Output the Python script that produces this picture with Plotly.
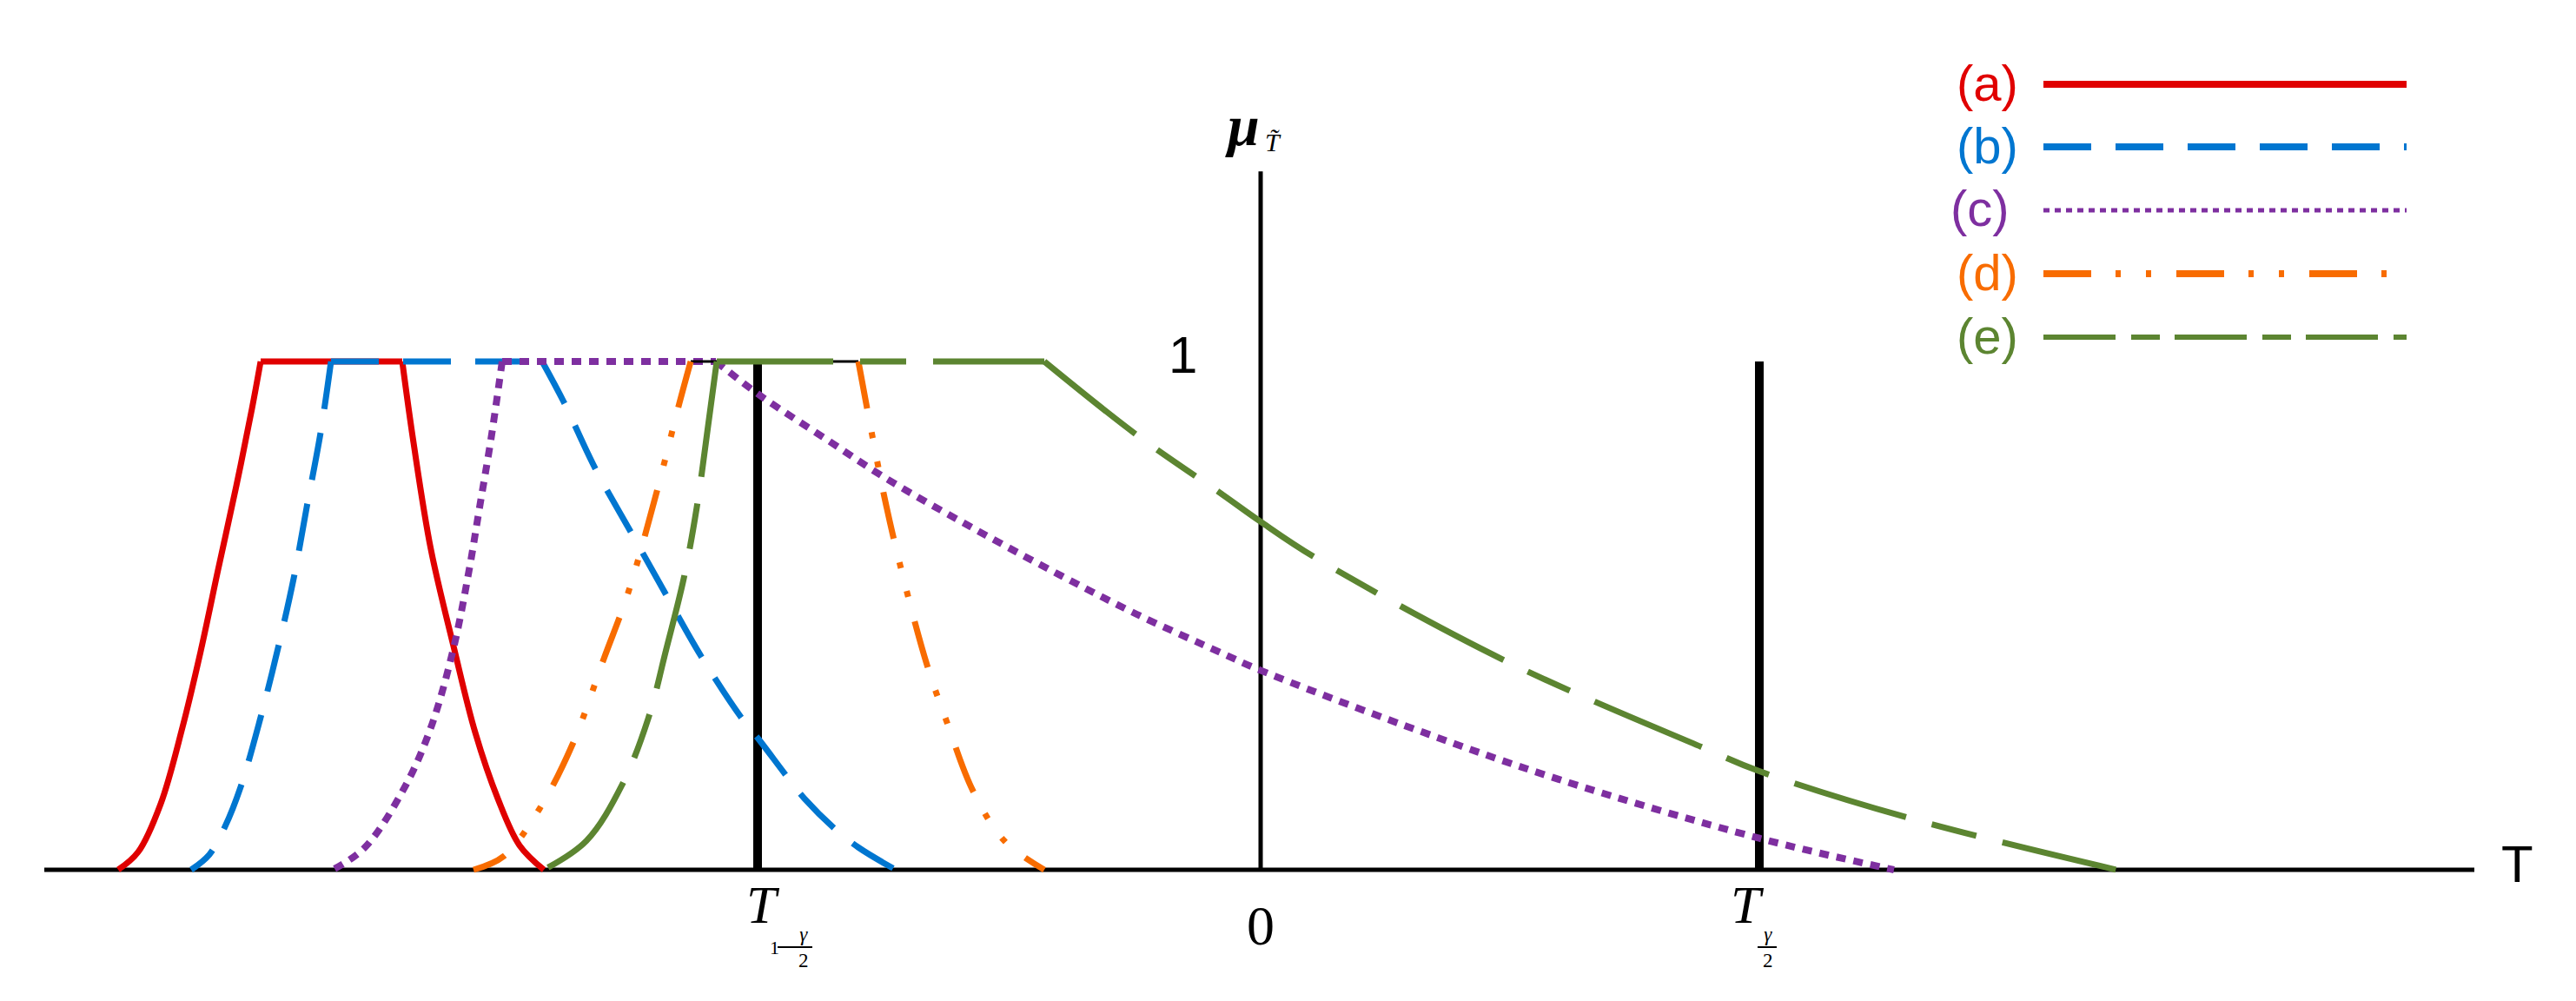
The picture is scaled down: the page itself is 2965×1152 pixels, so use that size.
import plotly.graph_objects as go

W, H = 2965, 1152

# Membership curves (T in arbitrary units, 0 on the mu axis).
# Every curve is split into rise (listed top -> base), flat top, and fall (top -> base),
# which is also how the dash patterns restart in the original.
a_rise_t = [-11.51, -11.61, -11.79, -12.00, -12.20, -12.41, -12.66, -12.92, -13.15]
a_rise_mu = [1, 0.907, 0.755, 0.59, 0.43, 0.28, 0.13, 0.035, 0]
a_fall_t = [-9.88, -9.75, -9.55, -9.29, -9.04, -8.78, -8.53, -8.25]
a_fall_mu = [1, 0.84, 0.63, 0.44, 0.27, 0.14, 0.048, 0]

b_rise_t = [-10.70, -10.82, -10.98, -11.13, -11.31, -11.51, -11.74, -11.92, -12.10, -12.31]
b_rise_mu = [1, 0.86, 0.713, 0.573, 0.436, 0.30, 0.163, 0.085, 0.03, 0]
b_fall_t = [-8.27, -8.02, -7.66, -7.25, -6.84, -6.44, -5.98, -5.76, -5.45, -5.25, -4.89, -4.63, -4.20]
b_fall_mu = [1, 0.92, 0.79, 0.665, 0.54, 0.42, 0.30, 0.253, 0.183, 0.14, 0.079, 0.044, 0]

c_rise_t = [-8.73, -8.86, -8.99, -9.11, -9.29, -9.55, -9.85, -10.31, -10.68]
c_rise_mu = [1, 0.846, 0.713, 0.59, 0.436, 0.28, 0.163, 0.044, 0]
c_fall_t = [-6.27, -5.76, -4.99, -4.33, -3.31, -2.29, -1.43, -0.43, -0.01, 1.67, 3.43, 5.74, 7.29]
c_fall_mu = [1, 0.933, 0.846, 0.772, 0.672, 0.578, 0.503, 0.425, 0.393, 0.283, 0.178, 0.062, 0]

d_rise_t = [-6.56, -6.69, -6.95, -7.28, -7.56, -7.92, -8.30, -8.71, -9.06]
d_rise_mu = [1, 0.918, 0.744, 0.545, 0.415, 0.247, 0.12, 0.027, 0]
d_fall_t = [-4.63, -4.53, -4.33, -4.15, -3.84, -3.61, -3.31, -2.95, -2.49]
d_fall_mu = [1, 0.908, 0.733, 0.60, 0.403, 0.29, 0.155, 0.057, 0]

e_rise_t = [-6.26, -6.36, -6.49, -6.64, -6.84, -7.05, -7.35, -7.76, -8.25]
e_rise_mu = [1, 0.873, 0.713, 0.573, 0.435, 0.297, 0.167, 0.057, 0]
e_fall_t = [-2.49, -1.43, -0.43, -0.01, 0.62, 2.83, 5.11, 5.74, 7.50, 9.85]
e_fall_mu = [1, 0.856, 0.737, 0.686, 0.615, 0.41, 0.239, 0.194, 0.10, 0]

labels = ['(a)', '(b)', '(c)', '(d)', '(e)']
colors = ['#e00000', '#0076d0', '#7e2fa0', '#f86c00', '#5c8531']

# quantile markers T_{1-gamma/2} and T_{gamma/2}
ref_t = [-5.79, 5.74]
ref_mu = [0, 1]

# (curve points, dash in plot, width) per series
series = [
    (a_rise_t, a_rise_mu, a_fall_t, a_fall_mu, 'solid', 7),
    (b_rise_t, b_rise_mu, b_fall_t, b_fall_mu, '55px,28px', 7),
    (c_rise_t, c_rise_mu, c_fall_t, c_fall_mu, '11px,9px', 8),
    (d_rise_t, d_rise_mu, d_fall_t, d_fall_mu, '55px,28px,7px,27px,7px,29px', 7),
    (e_rise_t, e_rise_mu, e_fall_t, e_fall_mu, '134px,31px,53px,31px', 7),
]
# dash and width used in the legend box
legend_style = [('solid', 8), ('55px,28px', 8), ('7px,6px', 5),
                ('55px,28px,6px,29px,6px,29px', 8), ('83px,18px,33px,17px', 6)]

fig = go.Figure()

# thick quantile lines, under the curves
for t in ref_t:
    fig.add_trace(go.Scatter(x=[t, t], y=ref_mu, mode='lines',
                             line=dict(color='black', width=10)))

for i, (rt, rm, ft, fm, dash, w) in enumerate(series):
    col = colors[i]
    is_d = labels[i] == '(d)'  # (d) has a thin black top
    fig.add_trace(go.Scatter(x=[rt[0], ft[0]], y=[rm[0], fm[0]], mode='lines',
                             line=dict(color='black' if is_d else col,
                                       width=3 if is_d else w,
                                       dash='solid' if is_d else dash)))
    for xs, ys in ((rt, rm), (ft, fm)):
        fig.add_trace(go.Scatter(x=xs, y=ys, mode='lines',
                                 line=dict(color=col, width=w, dash=dash,
                                           shape='spline', smoothing=1)))

# axes drawn by hand
shapes = [
    dict(type='line', xref='x', yref='y', x0=-14.0, x1=13.97, y0=0, y1=0,
         line=dict(color='black', width=5), layer='below'),
    dict(type='line', xref='x', yref='y', x0=0, x1=0, y0=0, y1=1.374,
         line=dict(color='black', width=5), layer='below'),
]

annotations = []

def px_ann(text, px, py, size, font='Liberation Sans', color='black'):
    annotations.append(dict(text=text, xref='paper', yref='paper',
                            x=px / W, y=1 - py / H, xanchor='center', yanchor='middle',
                            showarrow=False, font=dict(family=font, size=size, color=color)))

def tick_ann(text, t, dx, dy, size):
    annotations.append(dict(text=text, xref='x', yref='y', x=t, y=0,
                            xshift=dx, yshift=dy, xanchor='center', yanchor='middle',
                            showarrow=False,
                            font=dict(family='Liberation Serif', size=size, color='black')))

def frac_bar(t, x0, x1, y):
    shapes.append(dict(type='line', xref='x', yref='y', xsizemode='pixel', ysizemode='pixel',
                       xanchor=t, yanchor=0, x0=x0, x1=x1, y0=y, y1=y,
                       line=dict(color='black', width=2)))

# legend
leg_y = [89, 161, 234, 307, 380]
leg_cx = [2279, 2279, 2271, 2279, 2279]
for i, lab in enumerate(labels):
    px_ann(lab, leg_cx[i], leg_y[i] - 2, 58, color=colors[i])
    dash, w = legend_style[i]
    shapes.append(dict(type='line', xref='paper', yref='paper',
                       x0=2344 / W, x1=2762 / W, y0=1 - leg_y[i] / H, y1=1 - leg_y[i] / H,
                       line=dict(color=colors[i], width=w, dash=dash)))

# axis labels
px_ann('T', 2889, 986, 60)
px_ann('1', 1353, 400, 60)
px_ann('0', 1443, 1057, 64, font='Liberation Serif')
px_ann('<b><i>μ</i></b>', 1422, 136, 66, font='Liberation Serif')
px_ann('<i>T\u0303</i>', 1457, 155, 30, font='Liberation Serif')

# T_{1-gamma/2}
tick_ann('<i>T</i>', ref_t[0], 6, -40, 62)
tick_ann('1', ref_t[0], 19, -90, 22)
frac_bar(ref_t[0], 23, 63, -89)
tick_ann('<i>γ</i><br>2', ref_t[0], 53, -90, 23)
# T_{gamma/2}
tick_ann('<i>T</i>', ref_t[1], -14, -40, 62)
frac_bar(ref_t[1], -2, 20, -89)
tick_ann('<i>γ</i><br>2', ref_t[1], 10, -90, 23)

fig.update_layout(
    width=W, height=H,
    margin=dict(l=0, r=0, t=0, b=0, pad=0),
    paper_bgcolor='white', plot_bgcolor='white',
    showlegend=False,
    xaxis=dict(range=[-14.43, 15.22], visible=False, fixedrange=True),
    yaxis=dict(range=[-0.2718, 1.6974], visible=False, fixedrange=True),
    shapes=shapes,
    annotations=annotations,
)

fig.write_html("out.html")
